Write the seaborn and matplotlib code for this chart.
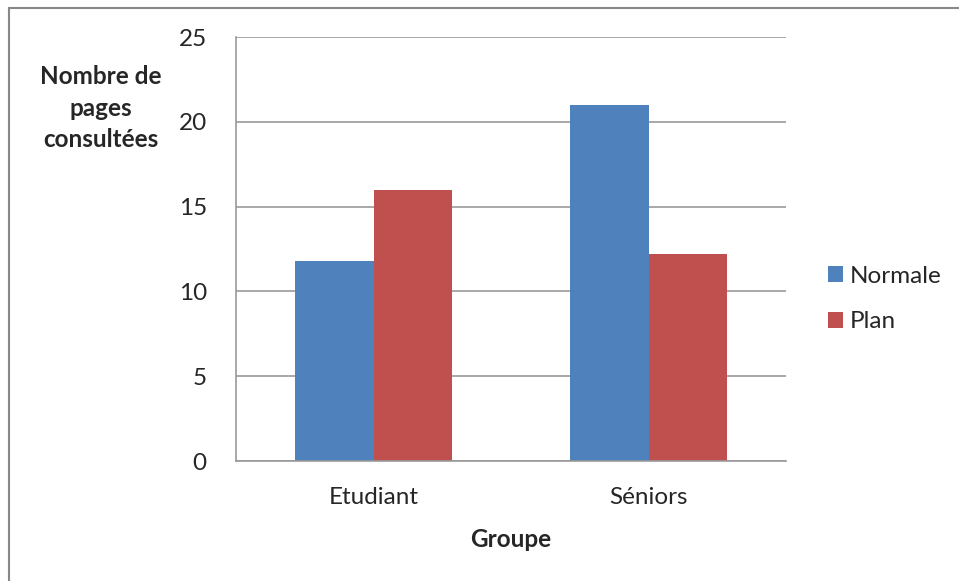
import pandas as pd
import seaborn as sns
import matplotlib.pyplot as plt
from matplotlib.patches import Rectangle

# Data
groupes = ["Etudiant", "Séniors"]
series = ["Normale", "Plan"]
normale = [11.8, 21.0]
plan = [16.0, 12.2]

df = pd.DataFrame({
    "Groupe": groupes * 2,
    "Série": [series[0]] * 2 + [series[1]] * 2,
    "Pages": normale + plan,
})

sns.set_style("white")
plt.rcParams['font.family'] = ['Lato', 'DejaVu Sans']

W, H = 959, 581
fs = 17.5
fig = plt.figure(figsize=(W / 100, H / 100), dpi=100)
ax = fig.add_axes([236 / W, 1 - 461 / H, 550 / W, 424 / H])

sns.barplot(data=df, x="Groupe", y="Pages", hue="Série", ax=ax,
            palette=["#4F81BD", "#C0504D"], width=0.57, saturation=1,
            edgecolor="none")

grid_col = "#999999"
ax.set_ylim(0, 25)
ax.set_xlim(-0.5, 1.5)
ax.set_yticks(range(0, 26, 5))
ax.yaxis.grid(True, color=grid_col, linewidth=1.2)
ax.set_axisbelow(True)
for s in ["top", "right"]:
    ax.spines[s].set_visible(False)
for s in ["left", "bottom"]:
    ax.spines[s].set_color(grid_col)
    ax.spines[s].set_linewidth(1.2)

ax.tick_params(axis="y", length=6, color=grid_col, width=1.2, labelsize=fs, pad=15)
ax.tick_params(axis="x", which="major", length=0, labelsize=fs, pad=19)
ax.set_xticks([-0.5, 0.5, 1.5], minor=True)
ax.tick_params(axis="x", which="minor", length=6, color=grid_col, width=1.2)

ax.set_xlabel("Groupe", fontsize=fs, fontweight="bold", labelpad=14)
ax.set_ylabel("")
fig.text(101 / W, 1 - 108 / H, "Nombre de\npages\nconsultées", ha="center", va="center",
         fontsize=fs, fontweight="bold", linespacing=1.45)

ax.legend(loc="center left", bbox_to_anchor=(1.076, 0.382), frameon=False,
          fontsize=fs, handlelength=0.62, handleheight=0.62, handletextpad=0.3,
          labelspacing=1.0, borderpad=0, borderaxespad=0)

# outer chart border
fig.patches.append(Rectangle((9 / W, -0.1), 1.2, 1 - 8 / H + 0.1, transform=fig.transFigure,
                             fill=False, edgecolor="#888888", linewidth=1.5))

fig.savefig("out.png", dpi=100)
